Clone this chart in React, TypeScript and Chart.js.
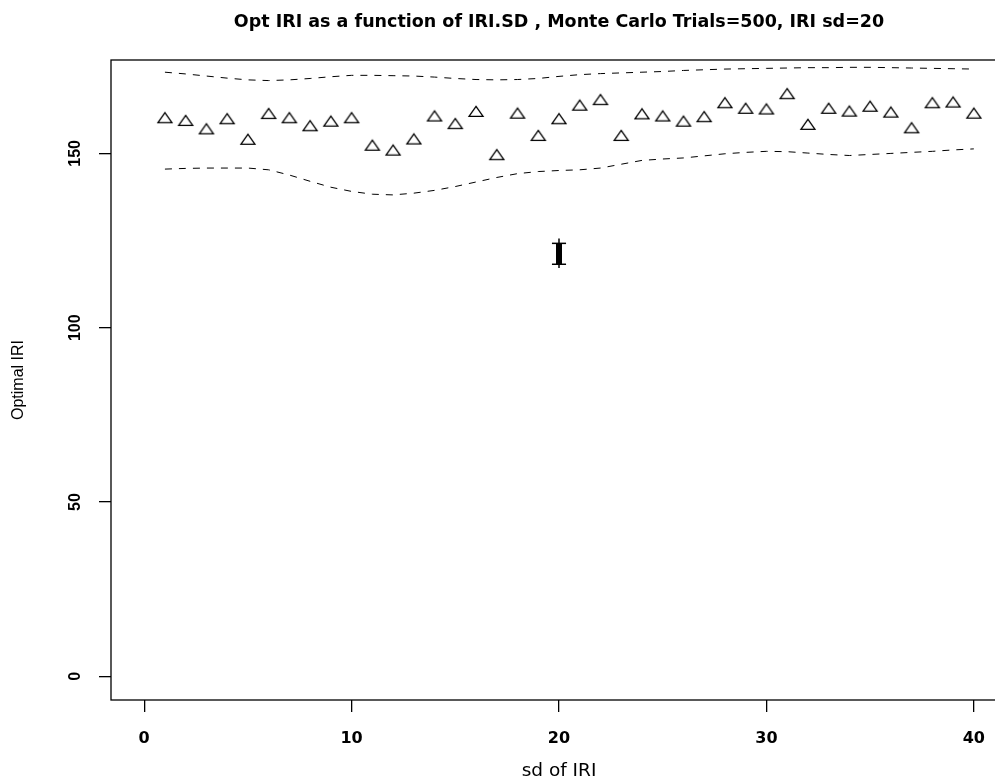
import React, { useEffect, useRef } from "react";
import { Chart, registerables } from "chart.js";

Chart.register(...registerables);

// ---- data ----
const sdOfIRI = [
  1, 2, 3, 4, 5, 6, 7, 8, 9, 10, 11, 12, 13, 14, 15, 16, 17, 18, 19, 20,
  21, 22, 23, 24, 25, 26, 27, 28, 29, 30, 31, 32, 33, 34, 35, 36, 37, 38, 39, 40,
];
const optimalIRI = [
  159.8, 159.0, 156.6, 159.5, 153.6, 161.0, 159.8, 157.5, 158.8, 159.8,
  151.9, 150.5, 153.7, 160.3, 158.1, 161.6, 149.2, 161.1, 154.7, 159.5,
  163.4, 165.0, 154.7, 160.9, 160.3, 158.8, 160.1, 164.1, 162.5, 162.3,
  166.7, 157.9, 162.5, 161.7, 163.1, 161.4, 156.9, 164.1, 164.3, 161.1,
];
const upperBand = [
  173.3, 172.8, 172.2, 171.6, 171.1, 170.9, 171.1, 171.5, 172.0, 172.4,
  172.4, 172.3, 172.2, 171.9, 171.5, 171.2, 171.1, 171.2, 171.5, 172.1,
  172.6, 172.9, 173.1, 173.3, 173.5, 173.8, 174.0, 174.2, 174.3, 174.4,
  174.5, 174.6, 174.6, 174.7, 174.7, 174.6, 174.5, 174.4, 174.3, 174.2,
];
const lowerBand = [
  145.5, 145.7, 145.8, 145.8, 145.8, 145.3, 143.8, 142.0, 140.3, 139.1,
  138.3, 138.1, 138.6, 139.4, 140.5, 141.8, 143.1, 144.2, 144.8, 145.1,
  145.3, 145.8, 146.9, 148.0, 148.4, 148.7, 149.3, 149.9, 150.3, 150.6,
  150.5, 150.1, 149.7, 149.4, 149.7, 150.0, 150.3, 150.6, 151.0, 151.3,
];
// error bar at IRI sd = 20
const errorX = 20;
const errorWhisker = [117.1, 125.6];
const errorBody = [118.2, 124.2];
const errorCapHalf = 0.34;

const xTickValues = [0, 10, 20, 30, 40];
const yTickValues = [0, 50, 100, 150];

const TITLE = "Opt IRI as a function of IRI.SD , Monte Carlo Trials=500, IRI sd=20";
const X_TITLE = "sd of IRI";
const Y_TITLE = "Optimal IRI";
const WIDE_FONT = "'DejaVu Sans', Verdana, sans-serif";
const FONT = "'Liberation Sans', Arial, Helvetica, sans-serif";

// open triangle marker, centroid at the image centre (as R's pch = 2)
function makeTriangle(w: number, h: number, lw: number) {
  const c = document.createElement("canvas");
  const pad = Math.ceil(lw) + 1;
  const W = Math.ceil(w + 2 * pad);
  const H = Math.ceil((4 * h) / 3 + 2 * pad);
  c.width = W;
  c.height = H;
  const ctx = c.getContext("2d")!;
  const cx = W / 2;
  const cy = H / 2;
  ctx.beginPath();
  ctx.moveTo(cx, cy - (2 * h) / 3);
  ctx.lineTo(cx + w / 2, cy + h / 3);
  ctx.lineTo(cx - w / 2, cy + h / 3);
  ctx.closePath();
  ctx.lineWidth = lw;
  ctx.strokeStyle = "#000";
  ctx.stroke();
  return c;
}

const boxPlugin = {
  id: "plotBox",
  afterDraw(chart: any) {
    const { ctx, chartArea } = chart;
    const { left, top, right, bottom } = chartArea;
    ctx.save();
    ctx.strokeStyle = "#000";
    ctx.lineWidth = 1.3;
    ctx.strokeRect(left, top, right - left, bottom - top);
    ctx.restore();
  },
};

export default function App() {
  const ref = useRef<HTMLCanvasElement | null>(null);

  useEffect(() => {
    if (!ref.current) return;

    const pts = sdOfIRI.map((x, i) => ({ x, y: optimalIRI[i] }));
    const up = sdOfIRI.map((x, i) => ({ x, y: upperBand[i] }));
    const lo = sdOfIRI.map((x, i) => ({ x, y: lowerBand[i] }));
    const tri = makeTriangle(14, 10, 1.3);

    const lineDs = (data: any[], width: number, dash: number[] = []) => ({
      data,
      showLine: true,
      borderColor: "#000",
      borderWidth: width,
      borderDash: dash,
      pointRadius: 0,
      pointHoverRadius: 0,
      tension: 0,
      fill: false,
    });

    const chart = new Chart(ref.current, {
      type: "scatter",
      data: {
        datasets: [
          {
            data: pts,
            pointStyle: tri,
            pointRadius: 7,
            borderColor: "#000",
            backgroundColor: "rgba(0,0,0,0)",
            showLine: false,
          } as any,
          lineDs(up, 1, [7, 7]),
          lineDs(lo, 1, [7, 7]),
          lineDs(
            [
              { x: errorX, y: errorWhisker[0] },
              { x: errorX, y: errorWhisker[1] },
            ],
            1.5
          ),
          lineDs(
            [
              { x: errorX, y: errorBody[0] },
              { x: errorX, y: errorBody[1] },
            ],
            6
          ),
          lineDs(
            [
              { x: errorX - errorCapHalf, y: errorBody[0] },
              { x: errorX + errorCapHalf, y: errorBody[0] },
            ],
            1.5
          ),
          lineDs(
            [
              { x: errorX - errorCapHalf, y: errorBody[1] },
              { x: errorX + errorCapHalf, y: errorBody[1] },
            ],
            1.5
          ),
        ],
      },
      options: {
        responsive: false,
        animation: false,
        devicePixelRatio: 1,
        layout: { padding: 0 },
        plugins: {
          legend: { display: false },
          tooltip: { enabled: false },
          title: {
            display: true,
            text: TITLE,
            fullSize: false,
            color: "#000",
            font: { family: WIDE_FONT, size: 17.5, weight: "bold" },
            padding: { top: 12, bottom: 27 },
          },
        },
        scales: {
          x: {
            type: "linear",
            min: -1.6,
            max: 41.6,
            afterFit: (s: any) => {
              s.height = 82;
              s.paddingLeft = 0;
              s.paddingRight = 0;
            },
            afterBuildTicks: (s: any) => {
              s.ticks = xTickValues.map((v) => ({ value: v }));
            },
            ticks: {
              color: "#000",
              font: { family: WIDE_FONT, size: 16, weight: "bold" },
              padding: 17.5,
              maxRotation: 0,
              minRotation: 0,
            },
            grid: {
              drawOnChartArea: false,
              drawTicks: true,
              tickLength: 12,
              color: "#000",
              lineWidth: 1.3,
            },
            border: { display: false },
            title: {
              display: true,
              text: X_TITLE,
              color: "#000",
              font: { family: WIDE_FONT, size: 18.5 },
              padding: { top: 0, bottom: 0 },
            },
          },
          y: {
            type: "linear",
            min: -6.8,
            max: 176.8,
            afterFit: (s: any) => {
              s.width = 111;
              s.paddingTop = 0;
              s.paddingBottom = 0;
            },
            afterBuildTicks: (s: any) => {
              s.ticks = yTickValues.map((v) => ({ value: v }));
            },
            ticks: {
              color: "#000",
              font: { family: FONT, size: 16, weight: "bold" },
              padding: 10,
              minRotation: 90,
              maxRotation: 90,
              crossAlign: "center",
            },
            grid: {
              drawOnChartArea: false,
              drawTicks: true,
              tickLength: 12,
              color: "#000",
              lineWidth: 1.3,
            },
            border: { display: false },
            title: {
              display: true,
              text: Y_TITLE,
              color: "#000",
              font: { family: FONT, size: 16 },
              padding: { top: 9, bottom: 0 },
            },
          },
        },
      } as any,
      plugins: [boxPlugin],
    });

    return () => chart.destroy();
  }, []);

  return (
    <div
      style={{
        position: "fixed",
        left: 0,
        top: 0,
        width: 995,
        height: 782,
        overflow: "hidden",
        background: "#fff",
      }}
    >
      <canvas
        ref={ref}
        width={1015}
        height={782}
        style={{ display: "block", width: 1015, height: 782 }}
      />
    </div>
  );
}
